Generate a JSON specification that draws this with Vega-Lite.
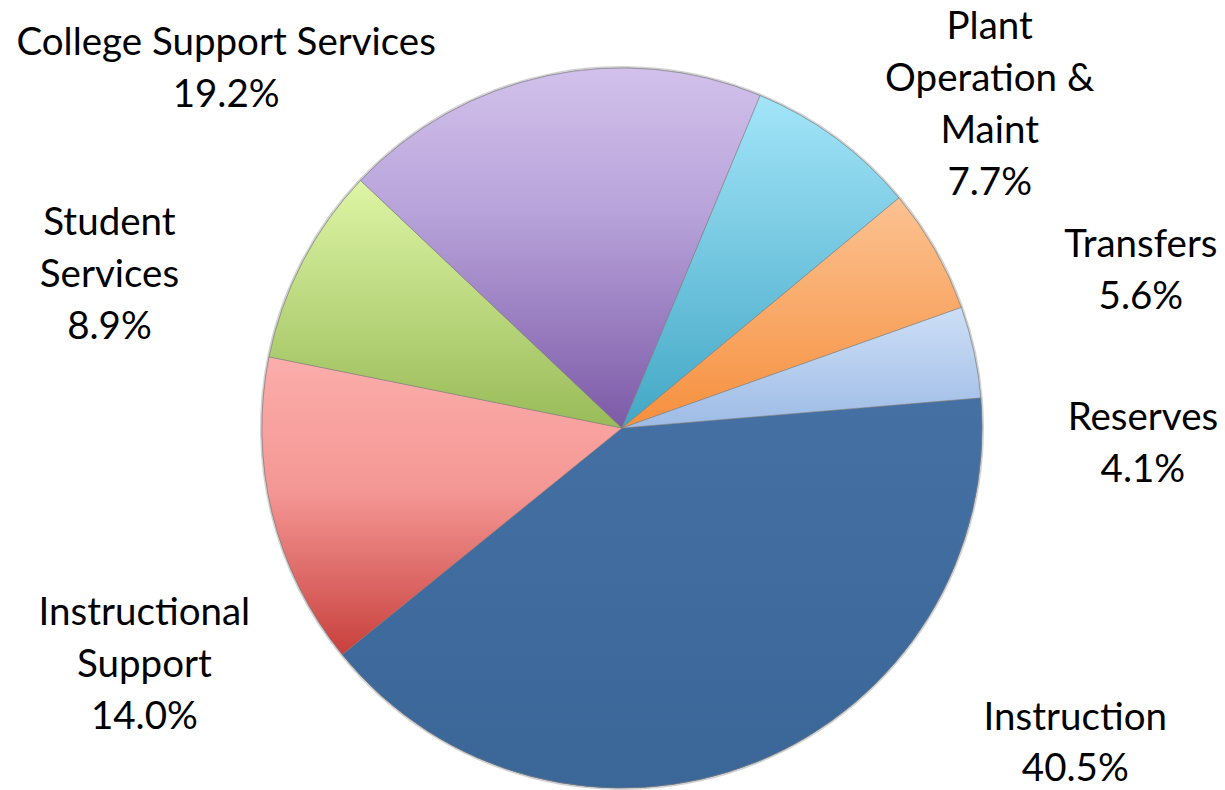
{
  "$schema": "https://vega.github.io/schema/vega-lite/v6.json",
  "width": 1206,
  "height": 724,
  "autosize": {"type": "none"},
  "padding": {"left": 19, "top": 66, "right": 0, "bottom": 0},
  "background": "white",
  "config": {"view": {"stroke": null}},
  "data": {"values": [
    {"category": "Instruction", "share": 40.5, "rank": 1, "label": "Instruction\n40.5%"},
    {"category": "Instructional Support", "share": 14.0, "rank": 2, "label": "Instructional\nSupport\n14.0%"},
    {"category": "Student Services", "share": 8.9, "rank": 3, "label": "Student\nServices\n8.9%"},
    {"category": "College Support Services", "share": 19.2, "rank": 4, "label": "College Support Services\n19.2%"},
    {"category": "Plant Operation & Maint", "share": 7.7, "rank": 5, "label": "Plant\nOperation &\nMaint\n7.7%"},
    {"category": "Transfers", "share": 5.6, "rank": 6, "label": "Transfers\n5.6%"},
    {"category": "Reserves", "share": 4.1, "rank": 7, "label": "Reserves\n4.1%"}
  ]},
  "encoding": {
    "theta": {"field": "share", "type": "quantitative", "stack": true, "scale": {"range": [1.487, 7.7702]}},
    "order": {"field": "rank", "type": "quantitative"}
  },
  "layer": [
    {
      "mark": {"type": "arc", "outerRadius": 362, "color": "#9a9a9a", "opacity": 0.45},
      "encoding": {}
    },
    {
      "mark": {"type": "arc", "outerRadius": 360, "stroke": "#7f7f7f", "strokeWidth": 1, "strokeOpacity": 0.55},
      "encoding": {
        "color": {
          "field": "category", "type": "nominal", "legend": null,
          "scale": {
            "domain": ["Instruction", "Instructional Support", "Student Services", "College Support Services", "Plant Operation & Maint", "Transfers", "Reserves"],
            "range": ["#3E6A9C", "#E07572", "#BCD880", "#A58BC9", "#74CAE3", "#F9A865", "#B4CDEE"]
          }
        }
      }
    },
    {
      "mark": {"type": "arc", "outerRadius": 360, "stroke": "#7f7f7f", "strokeWidth": 1, "strokeOpacity": 0.55,
        "fill": {"gradient": "linear", "x1": 0, "y1": 0, "x2": 0, "y2": 1, "stops": [{"offset": 0, "color": "#4470A3"}, {"offset": 1, "color": "#3B6698"}]}},
      "encoding": {"opacity": {"condition": {"test": "datum.category === 'Instruction'", "value": 1}, "value": 0}}
    },
    {
      "mark": {"type": "arc", "outerRadius": 360, "stroke": "#7f7f7f", "strokeWidth": 1, "strokeOpacity": 0.55,
        "fill": {"gradient": "linear", "x1": 0, "y1": 0, "x2": 0, "y2": 1, "stops": [{"offset": 0, "color": "#FCADAB"}, {"offset": 0.45, "color": "#F49794"}, {"offset": 1, "color": "#C8403D"}]}},
      "encoding": {"opacity": {"condition": {"test": "datum.category === 'Instructional Support'", "value": 1}, "value": 0}}
    },
    {
      "mark": {"type": "arc", "outerRadius": 360, "stroke": "#7f7f7f", "strokeWidth": 1, "strokeOpacity": 0.55,
        "fill": {"gradient": "linear", "x1": 0, "y1": 0, "x2": 0, "y2": 1, "stops": [{"offset": 0, "color": "#DDF5A5"}, {"offset": 1, "color": "#99BB58"}]}},
      "encoding": {"opacity": {"condition": {"test": "datum.category === 'Student Services'", "value": 1}, "value": 0}}
    },
    {
      "mark": {"type": "arc", "outerRadius": 360, "stroke": "#7f7f7f", "strokeWidth": 1, "strokeOpacity": 0.55,
        "fill": {"gradient": "linear", "x1": 0, "y1": 0, "x2": 0, "y2": 1, "stops": [{"offset": 0, "color": "#D2C1EB"}, {"offset": 0.4, "color": "#B8A3DA"}, {"offset": 1, "color": "#7C5AA7"}]}},
      "encoding": {"opacity": {"condition": {"test": "datum.category === 'College Support Services'", "value": 1}, "value": 0}}
    },
    {
      "mark": {"type": "arc", "outerRadius": 360, "stroke": "#7f7f7f", "strokeWidth": 1, "strokeOpacity": 0.55,
        "fill": {"gradient": "linear", "x1": 0, "y1": 0, "x2": 0, "y2": 1, "stops": [{"offset": 0, "color": "#A3E5F9"}, {"offset": 1, "color": "#42A7C5"}]}},
      "encoding": {"opacity": {"condition": {"test": "datum.category === 'Plant Operation & Maint'", "value": 1}, "value": 0}}
    },
    {
      "mark": {"type": "arc", "outerRadius": 360, "stroke": "#7f7f7f", "strokeWidth": 1, "strokeOpacity": 0.55,
        "fill": {"gradient": "linear", "x1": 0, "y1": 0, "x2": 0, "y2": 1, "stops": [{"offset": 0, "color": "#FCC292"}, {"offset": 1, "color": "#F68F3D"}]}},
      "encoding": {"opacity": {"condition": {"test": "datum.category === 'Transfers'", "value": 1}, "value": 0}}
    },
    {
      "mark": {"type": "arc", "outerRadius": 360, "stroke": "#7f7f7f", "strokeWidth": 1, "strokeOpacity": 0.55,
        "fill": {"gradient": "linear", "x1": 0, "y1": 0, "x2": 0, "y2": 1, "stops": [{"offset": 0, "color": "#CDDFF7"}, {"offset": 1, "color": "#9DBBE5"}]}},
      "encoding": {"opacity": {"condition": {"test": "datum.category === 'Reserves'", "value": 1}, "value": 0}}
    },
    {
      "mark": {"type": "text", "radius": 360, "dx": 319, "dy": -32, "font": "Lato", "fontSize": 38.5, "lineHeight": 51, "lineBreak": "\n", "align": "center", "baseline": "alphabetic", "color": "#000000"},
      "encoding": {"text": {"condition": {"test": "datum.category === 'Instruction'", "field": "label"}, "value": ""}}
    },
    {
      "mark": {"type": "text", "radius": 360, "dx": -128, "dy": 111, "font": "Lato", "fontSize": 38.5, "lineHeight": 52, "lineBreak": "\n", "align": "center", "baseline": "alphabetic", "color": "#000000"},
      "encoding": {"text": {"condition": {"test": "datum.category === 'Instructional Support'", "field": "label"}, "value": ""}}
    },
    {
      "mark": {"type": "text", "radius": 360, "dx": -193, "dy": -27, "font": "Lato", "fontSize": 38.5, "lineHeight": 52, "lineBreak": "\n", "align": "center", "baseline": "alphabetic", "color": "#000000"},
      "encoding": {"text": {"condition": {"test": "datum.category === 'Student Services'", "field": "label"}, "value": ""}}
    },
    {
      "mark": {"type": "text", "radius": 360, "dx": -321, "dy": -21, "font": "Lato", "fontSize": 38.5, "lineHeight": 52, "lineBreak": "\n", "align": "center", "baseline": "alphabetic", "color": "#000000"},
      "encoding": {"text": {"condition": {"test": "datum.category === 'College Support Services'", "field": "label"}, "value": ""}}
    },
    {
      "mark": {"type": "text", "radius": 360, "dx": 154, "dy": -99, "font": "Lato", "fontSize": 38.5, "lineHeight": 52, "lineBreak": "\n", "align": "center", "baseline": "alphabetic", "color": "#000000"},
      "encoding": {"text": {"condition": {"test": "datum.category === 'Plant Operation & Maint'", "field": "label"}, "value": ""}}
    },
    {
      "mark": {"type": "text", "radius": 360, "dx": 206, "dy": 7, "font": "Lato", "fontSize": 38.5, "lineHeight": 52, "lineBreak": "\n", "align": "center", "baseline": "alphabetic", "color": "#000000"},
      "encoding": {"text": {"condition": {"test": "datum.category === 'Transfers'", "field": "label"}, "value": ""}}
    },
    {
      "mark": {"type": "text", "radius": 360, "dx": 169, "dy": 78, "font": "Lato", "fontSize": 38.5, "lineHeight": 52, "lineBreak": "\n", "align": "center", "baseline": "alphabetic", "color": "#000000"},
      "encoding": {"text": {"condition": {"test": "datum.category === 'Reserves'", "field": "label"}, "value": ""}}
    }
  ]
}
